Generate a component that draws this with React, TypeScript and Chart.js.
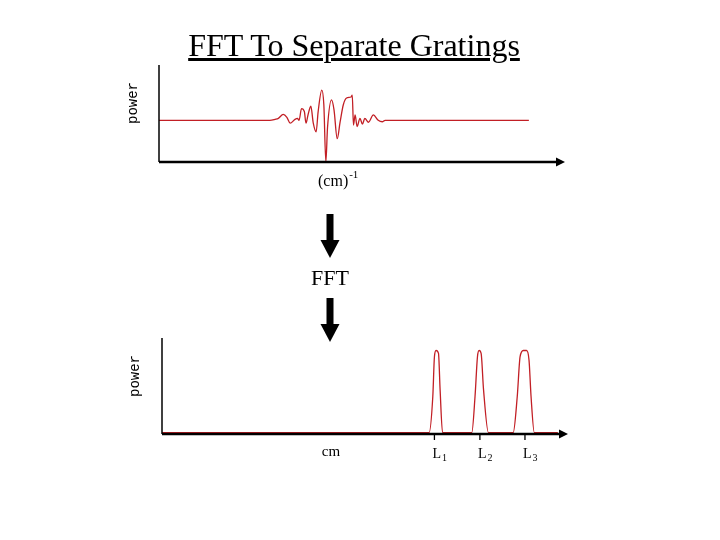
import React, { useEffect, useRef } from "react";
import { Chart, registerables } from "chart.js";

Chart.register(...registerables);

// ---- Data (arbitrary axis units 0..100) ----
// Top: interferogram-like signal, x in (cm)^-1 units, power
const topX = [0, 27.3, 28.6, 29.4, 30.6, 31.5, 32.3, 33.5, 34.1, 34.5, 35.1, 35.8, 36.2, 36.7, 37.4, 38.0, 38.7, 39.2, 40.1, 40.6, 41.1, 41.5, 42.5, 43.1, 43.9, 44.6, 45.4, 46.2, 47.3, 47.6, 47.9, 48.3, 48.8, 49.5, 50.1, 50.7, 51.6, 52.8, 54.0, 55.0, 55.7, 91.1];
const topPower = [43, 43, 44, 45, 49, 46, 40, 44, 45, 43, 55, 52, 40, 48.5, 57.5, 40, 31, 52, 74, 59, 0, 35, 64, 54, 24, 41, 59, 66, 67, 69, 38, 48.5, 36.5, 45, 39, 45, 41, 48.5, 43, 41.5, 43, 43];

// Bottom: FFT result, x in cm, power with three grating peaks
const botX = [0, 65.8, 66.7, 67.1, 67.5, 68.1, 68.5, 69.1, 76.3, 77.1, 77.7, 78.1, 78.6, 79.2, 80.4, 86.5, 87.5, 88.2, 89.0, 89.8, 90.4, 90.9, 91.7, 97.5];
const botPower = [1.5, 1.5, 39, 80.5, 87, 84, 46, 1.5, 1.5, 39, 80.5, 87, 84, 46, 1.5, 1.5, 39, 80.5, 87, 87, 77, 39, 1.5, 1.5];

const gratingPositions = [67.1, 78.3, 89.4];
const gratingSubscripts = ["1", "2", "3"];

const titleText = "FFT To Separate Gratings";
const fftText = "FFT";
const yLabel = "power";
const topXLabel = "(cm)";
const topXLabelSup = "-1";
const botXLabel = "cm";

const RED = "#c21f25";
const SERIF = "'Liberation Serif', 'Times New Roman', serif";
const MONO = "'Liberation Mono', 'Courier New', monospace";

function drawAxes(chart: any) {
  const { ctx, chartArea } = chart;
  const { left, right, top, bottom } = chartArea;
  ctx.save();
  ctx.strokeStyle = "#000";
  ctx.fillStyle = "#000";
  // y axis
  ctx.lineWidth = 1.5;
  ctx.beginPath();
  ctx.moveTo(left, top);
  ctx.lineTo(left, bottom);
  ctx.stroke();
  // x axis
  ctx.lineWidth = 2.5;
  ctx.beginPath();
  ctx.moveTo(left, bottom);
  ctx.lineTo(right - 6, bottom);
  ctx.stroke();
  // arrow head
  ctx.beginPath();
  ctx.moveTo(right, bottom);
  ctx.lineTo(right - 9, bottom - 4.5);
  ctx.lineTo(right - 9, bottom + 4.5);
  ctx.closePath();
  ctx.fill();
  ctx.restore();
}

function drawRotated(ctx: any, text: string, x: number, y: number) {
  ctx.save();
  ctx.translate(x, y);
  ctx.rotate(-Math.PI / 2);
  ctx.font = `14px ${MONO}`;
  ctx.fillStyle = "#000";
  ctx.textAlign = "center";
  ctx.textBaseline = "middle";
  ctx.fillText(text, 0, 0);
  ctx.restore();
}

const topPlugin = {
  id: "topDecor",
  afterDatasetsDraw(chart: any) {
    const { ctx, chartArea } = chart;
    drawAxes(chart);
    drawRotated(ctx, yLabel, chartArea.left - 26, chartArea.top + 38);
    ctx.save();
    ctx.fillStyle = "#000";
    ctx.font = `16px ${SERIF}`;
    ctx.textAlign = "left";
    ctx.textBaseline = "alphabetic";
    const lx = chartArea.left + 159;
    const ly = chartArea.bottom + 24;
    ctx.fillText(topXLabel, lx, ly);
    const w = ctx.measureText(topXLabel).width;
    ctx.font = `11px ${SERIF}`;
    ctx.fillText(topXLabelSup, lx + w + 1, ly - 8);
    ctx.restore();
  },
};

const botPlugin = {
  id: "botDecor",
  afterDatasetsDraw(chart: any) {
    const { ctx, chartArea, scales } = chart;
    drawAxes(chart);
    drawRotated(ctx, yLabel, chartArea.left - 27, chartArea.top + 38);
    ctx.save();
    ctx.fillStyle = "#000";
    ctx.strokeStyle = "#000";
    ctx.textBaseline = "alphabetic";
    ctx.font = `15px ${SERIF}`;
    ctx.textAlign = "center";
    ctx.fillText(botXLabel, chartArea.left + 169, chartArea.bottom + 22);
    gratingPositions.forEach((v, i) => {
      const px = scales.x.getPixelForValue(v);
      ctx.lineWidth = 1.3;
      ctx.beginPath();
      ctx.moveTo(px, chartArea.bottom);
      ctx.lineTo(px, chartArea.bottom + 6);
      ctx.stroke();
      ctx.textAlign = "left";
      ctx.font = `14px ${SERIF}`;
      const lx = px - 2;
      const ly = chartArea.bottom + 24;
      ctx.fillText("L", lx, ly);
      const w = ctx.measureText("L").width;
      ctx.font = `10px ${SERIF}`;
      ctx.fillText(gratingSubscripts[i], lx + w + 1, ly + 3);
    });
    ctx.restore();
  },
};

function makeConfig(xs: number[], ys: number[], padding: any, plugin: any) {
  return {
    type: "line" as const,
    data: {
      datasets: [
        {
          data: xs.map((x, i) => ({ x, y: ys[i] })),
          borderColor: RED,
          borderWidth: 1.3,
          pointRadius: 0,
          fill: false,
          cubicInterpolationMode: "monotone" as const,
        },
      ],
    },
    options: {
      responsive: false,
      animation: false as const,
      layout: { padding },
      scales: {
        x: { type: "linear" as const, min: 0, max: 100, display: false },
        y: { type: "linear" as const, min: 0, max: 100, display: false },
      },
      plugins: { legend: { display: false }, tooltip: { enabled: false } },
    },
    plugins: [plugin],
  };
}

function Arrow({ top }: { top: number }) {
  return (
    <svg
      style={{ position: "absolute", left: 318, top, overflow: "visible" }}
      width={24}
      height={46}
    >
      <rect x={8.5} y={0} width={7} height={28} fill="#000" />
      <polygon points="2.5,26 21.5,26 12,44" fill="#000" />
    </svg>
  );
}

export default function App() {
  const topRef = useRef<HTMLCanvasElement>(null);
  const botRef = useRef<HTMLCanvasElement>(null);

  useEffect(() => {
    const c1 = new Chart(
      topRef.current as HTMLCanvasElement,
      makeConfig(topX, topPower, { left: 159, right: 155, top: 65, bottom: 58 }, topPlugin) as any
    );
    const c2 = new Chart(
      botRef.current as HTMLCanvasElement,
      makeConfig(botX, botPower, { left: 162, right: 152, top: 38, bottom: 66 }, botPlugin) as any
    );
    return () => {
      c1.destroy();
      c2.destroy();
    };
  }, []);

  return (
    <div
      style={{
        position: "absolute",
        left: 0,
        top: 0,
        width: 720,
        height: 540,
        background: "#fff",
        overflow: "hidden",
      }}
    >
      <canvas
        ref={topRef}
        width={720}
        height={220}
        style={{ position: "absolute", left: 0, top: 0, width: 720, height: 220 }}
      />
      <canvas
        ref={botRef}
        width={720}
        height={200}
        style={{ position: "absolute", left: 0, top: 300, width: 720, height: 200 }}
      />
      <div
        style={{
          position: "absolute",
          left: 0,
          top: 29,
          width: 708,
          textAlign: "center",
          fontFamily: SERIF,
          fontSize: 32,
          lineHeight: "32px",
          textDecoration: "underline",
          textDecorationThickness: "2.5px",
          color: "#000",
          whiteSpace: "nowrap",
        }}
      >
        {titleText}
      </div>
      <Arrow top={214} />
      <div
        style={{
          position: "absolute",
          left: 280,
          top: 267,
          width: 100,
          textAlign: "center",
          fontFamily: SERIF,
          fontSize: 22,
          lineHeight: "22px",
          color: "#000",
        }}
      >
        {fftText}
      </div>
      <Arrow top={298} />
    </div>
  );
}
